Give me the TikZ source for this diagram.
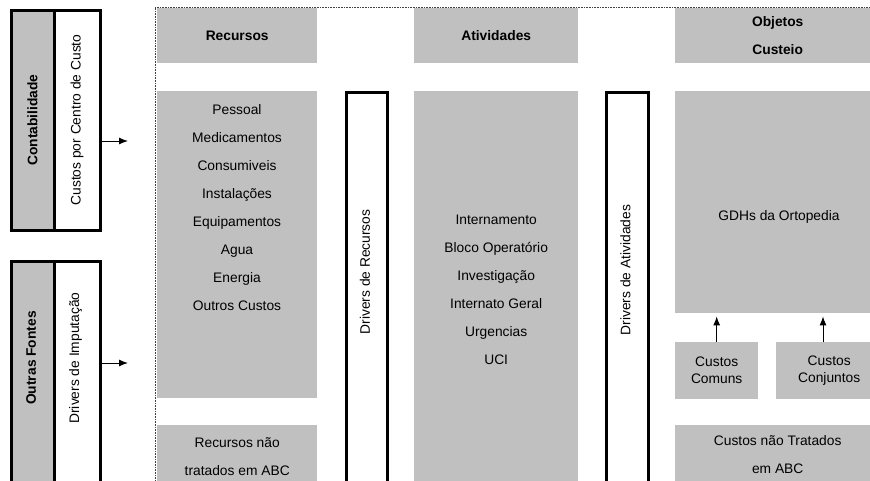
\documentclass[tikz,border=0pt]{standalone}
\usepackage{fontspec}
\setmainfont{Liberation Sans}
\usetikzlibrary{arrows.meta,positioning}

\definecolor{boxgray}{RGB}{192,192,192}

\tikzset{
	graybox/.style={fill=boxgray, inner sep=0pt, anchor=north west, align=center, font=\fontsize{13.8}{28}\selectfont},
	framebox/.style={draw, line width=3pt, inner sep=0pt, anchor=north west},
	hdr/.style={font=\bfseries\fontsize{13.8}{28}\selectfont, align=center},
	txt/.style={font=\fontsize{13.8}{28}\selectfont, align=center},
	arr/.style={->, >={Latex[length=9pt,width=7pt]}, line width=1pt},
}

\begin{document}
\begin{tikzpicture}[x=1pt, y=-1pt]

	\useasboundingbox (0,0) rectangle (870,480);

	% sources on the left
	\node[framebox, fill=boxgray, minimum width=43, minimum height=220] (cont) at (9.5,8.5) {};
	\node[framebox, fill=white, minimum width=46, minimum height=220] (ccc) at (52.5,8.5) {};
	\node[hdr, rotate=90] (contT) at (cont.center) {Contabilidade};
	\node[txt, rotate=90] (cccT) at (ccc.center) {Custos por Centro de Custo};

	\node[framebox, fill=boxgray, minimum width=43, minimum height=240] (outras) at (9.5,259.5) {};
	\node[framebox, fill=white, minimum width=46, minimum height=240] (dimp) at (52.5,259.5) {};
	\node[hdr, rotate=90] (outrasT) at (31,358) {Outras Fontes};
	\node[txt, rotate=90] (dimpT) at (75.5,358) {Drivers de Imputação};

	\coordinate (in1) at (128,141);
	\coordinate (in2) at (128,363);
	\draw[arr] (ccc.east |- in1) -- (in1);
	\draw[arr] (dimp.east |- in2) -- (in2);

	% ABC model frame
	\draw[densely dotted, line width=0.6pt, black!75] (155,490) |- (880,7);

	\node[graybox, hdr, minimum width=160, minimum height=55] (recH) at (157,8) {Recursos};
	\node[graybox, hdr, minimum width=164, minimum height=55] (atvH) at (414,8) {Atividades};
	\node[graybox, hdr, minimum width=205, minimum height=55] (objH) at (675,8) {Objetos\\Custeio};

	\node[graybox, minimum width=160, minimum height=307] (rec) at (157,91) {};
	\node[txt] (recL) at (237,208) {Pessoal\\Medicamentos\\Consumiveis\\Instalações\\Equipamentos\\Agua\\Energia\\Outros Custos};

	\node[framebox, fill=white, minimum width=41, minimum height=400] (drvR) at (344.5,90.5) {};
	\node[txt, rotate=90] (drvRT) at (365,272) {Drivers de Recursos};

	\node[graybox, minimum width=164, minimum height=398] (atv) at (414,91) {Internamento\\Bloco Operatório\\Investigação\\Internato Geral\\Urgencias\\UCI};

	\node[framebox, fill=white, minimum width=42, minimum height=400] (drvA) at (604.5,90.5) {};
	\node[txt, rotate=90] (drvAT) at (625.5,270) {Drivers de Atividades};

	\node[graybox, minimum width=205, minimum height=222] (gdh) at (675,91) {};
	\node[txt] (gdhT) at (779,217) {GDHs da Ortopedia};

	\node[graybox, font=\fontsize{13.8}{17}\selectfont, minimum width=83, minimum height=57] (comuns) at (675,342) {Custos\\Comuns};
	\node[graybox, font=\fontsize{13.8}{17}\selectfont, minimum width=106, minimum height=57] (conj) at (776,342) {Custos\\Conjuntos};

	\coordinate (cj) at (823,342);
	\draw[arr, shorten >=3pt] (comuns.north) -- (comuns.north |- gdh.south);
	\draw[arr, shorten >=3pt] (cj) -- (cj |- gdh.south);

	% not treated in ABC
	\node[graybox, minimum width=160, minimum height=62] (recNT) at (157,425) {Recursos não\\tratados em ABC};
	\node[graybox, minimum width=205, minimum height=58] (cusNT) at (675,425) {Custos não Tratados\\em ABC};

\end{tikzpicture}
\end{document}
